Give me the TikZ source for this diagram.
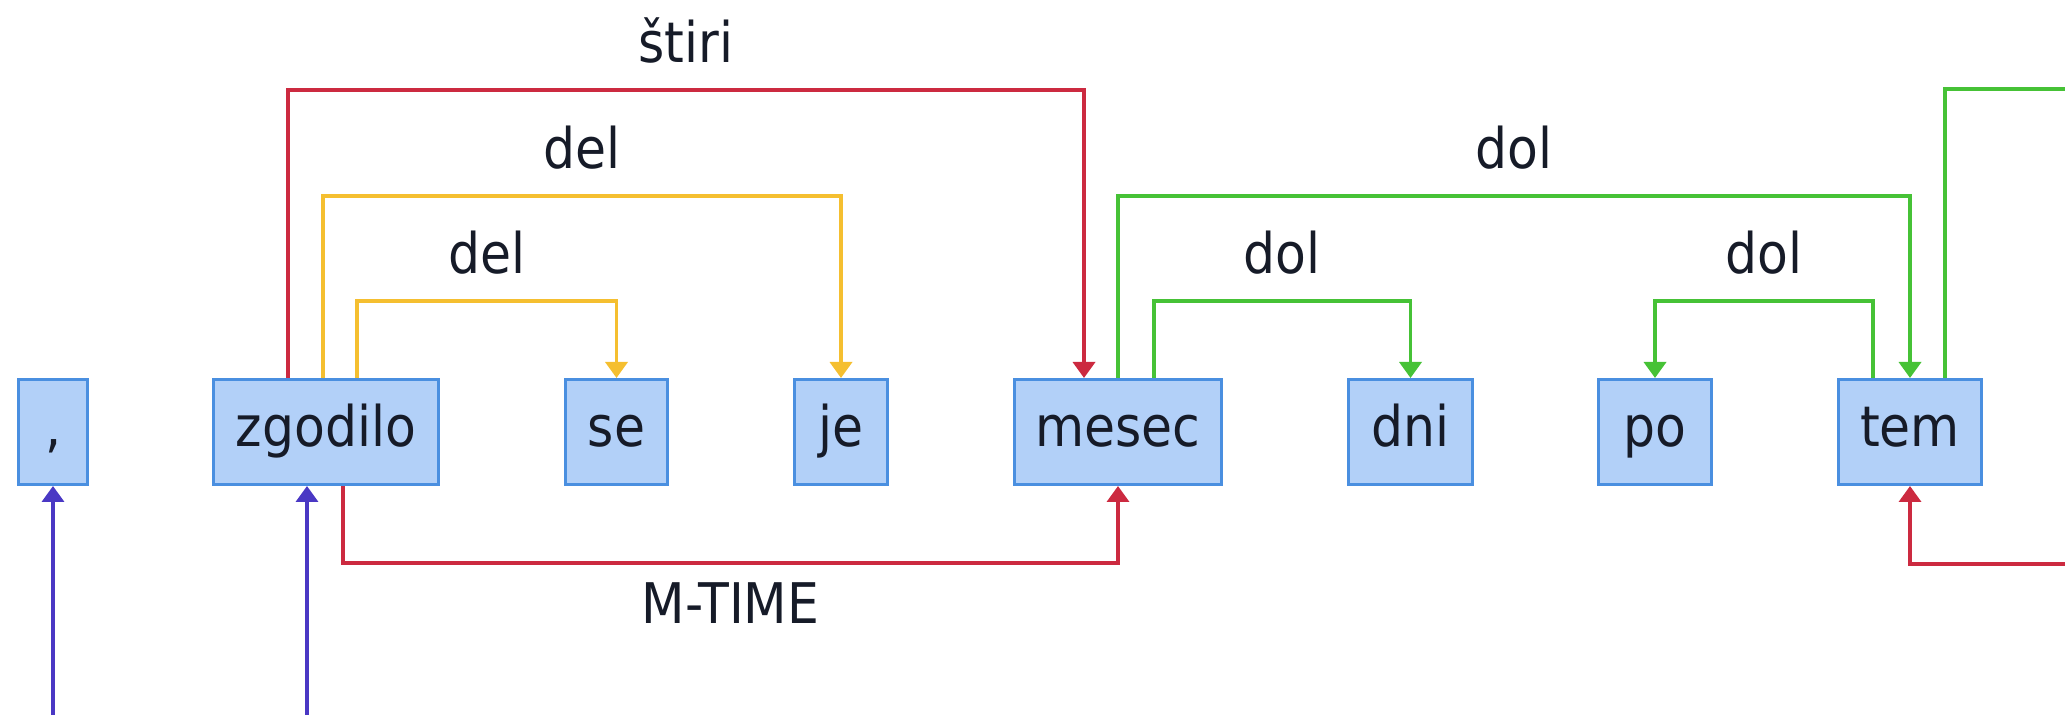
\documentclass[tikz,border=0pt]{standalone}
\usepackage{fontspec}
\setmainfont{DejaVu Sans Condensed}
\usetikzlibrary{arrows.meta,calc}
\definecolor{boxfill}{HTML}{B2D0F8}
\definecolor{boxline}{HTML}{4A8FE0}
\definecolor{txt}{HTML}{161B28}
\definecolor{rrel}{HTML}{CC2A40}
\definecolor{yrel}{HTML}{F5BF30}
\definecolor{grel}{HTML}{46C236}
\definecolor{brel}{HTML}{4A38C4}
\begin{document}
\begin{tikzpicture}[x=0.25pt,y=-0.25pt,
  wbox/.style={draw=boxline, fill=boxfill, line width=0.85pt, rectangle,
    minimum height=26.15pt, inner sep=0pt, text=txt,
    font=\fontsize{14}{16}\selectfont, text height=0.875em, text depth=0.125em},
  lbl/.style={text=txt, inner sep=0pt, font=\fontsize{14}{16}\selectfont, anchor=base},
  up/.style={lbl, yshift=6.75pt},
  down/.style={lbl, yshift=-15pt},
  rel/.style={line width=0.9pt, -{Triangle[width=5.5pt,length=4pt]}},
  plain/.style={line width=0.9pt}
]
\useasboundingbox (0,0) rectangle (2065,715);
\clip (0,0) rectangle (2065,715);

\node[wbox, minimum width=17.15pt] (cm)  at (53,432)    {,};
\node[wbox, minimum width=56.15pt] (zg)  at (326,432)   {zgodilo};
\node[wbox, minimum width=25.4pt]  (se)  at (616.5,432) {se};
\node[wbox, minimum width=23.15pt] (je)  at (841,432)   {je};
\node[wbox, minimum width=51.65pt] (mes) at (1118,432)  {mesec};
\node[wbox, minimum width=30.9pt]  (dni) at (1410.5,432){dni};
\node[wbox, minimum width=28.15pt] (po)  at (1655,432)  {po};
\node[wbox, minimum width=35.65pt] (tem) at (1910,432)  {tem};

\coordinate (gEnd) at (2090,89);
\coordinate (rStart) at (2090,564);
\coordinate (b1) at (53,740);
\coordinate (b2) at (307,740);

% red: stiri
\draw[rel, rrel] ($(zg.north)+(-38,0)$) -- ++(0,-288)
  -| node[up, pos=0.25] {štiri} ($(mes.north)+(-34,0)$);
% yellow: del (outer)
\draw[rel, yrel] ($(zg.north)+(-3,0)$) -- ++(0,-182)
  -| node[up, pos=0.25] {del} (je.north);
% yellow: del (inner)
\draw[rel, yrel] ($(zg.north)+(31,0)$) -- ++(0,-77)
  -| node[up, pos=0.25] {del} (se.north);
% red: M-TIME
\draw[rel, rrel] ($(zg.south)+(17,0)$) -- ++(0,77)
  -| node[down, pos=0.25] {M-TIME} (mes.south);
% green: dol (mesec -> tem)
\draw[rel, grel] (mes.north) -- ++(0,-182)
  -| node[up, pos=0.25] {dol} (tem.north);
% green: dol (mesec -> dni)
\draw[rel, grel] ($(mes.north)+(36,0)$) -- ++(0,-77)
  -| node[up, pos=0.25] {dol} (dni.north);
% green: dol (tem -> po)
\draw[rel, grel] ($(tem.north)+(-37,0)$) -- ++(0,-77)
  -| node[up, pos=0.25] {dol} (po.north);
% green: leaving to the right
\draw[plain, grel] ($(tem.north)+(35,0)$) |- (gEnd);
% red: arriving from the right
\draw[rel, rrel] (rStart) -| (tem.south);
% blue: arriving from below
\draw[rel, brel] (b1) -- (cm.south);
\draw[rel, brel] (b2) -- ($(zg.south)+(-19,0)$);
\end{tikzpicture}
\end{document}
